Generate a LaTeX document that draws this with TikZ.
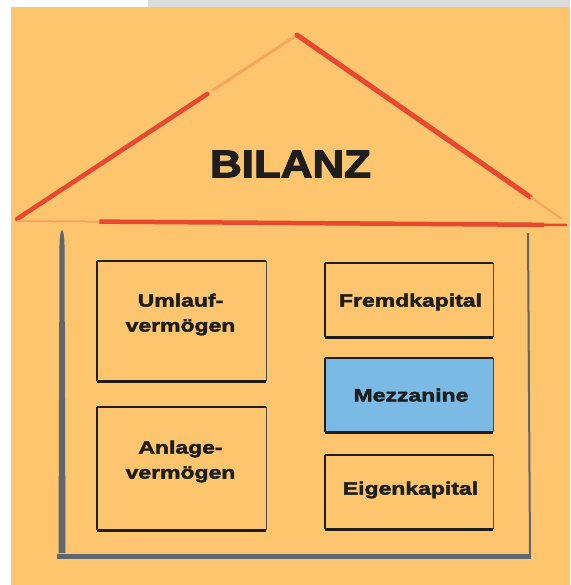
\documentclass[tikz,border=0pt]{standalone}
\usepackage{fontspec}
\usetikzlibrary{calc}
\newfontfamily\lab[FakeStretch=1.29,FakeBold=2.6]{Liberation Sans}
\newfontfamily\ttl[FakeStretch=1.14,FakeBold=3]{Liberation Sans}
\definecolor{bg}{HTML}{FCC56E}
\definecolor{barc}{HTML}{DCDCDC}
\definecolor{roofred}{HTML}{E8482F}
\definecolor{wallc}{HTML}{5F6670}
\definecolor{ink}{HTML}{1E1E1E}
\definecolor{mezz}{HTML}{7ABAE4}
\newcommand\handbox[1]{%
  \draw[ink,line width=2.4pt] (#1.north west) -- (#1.south west);
  \draw[ink,line width=2.8pt] (#1.south west) -- (#1.south east);
  \draw[ink,line width=1.8pt] (#1.north west) -- (#1.north east);
  \draw[ink!80,line width=1.1pt] (#1.north east) -- (#1.south east);}
\begin{document}
\begin{tikzpicture}[x=1pt,y=-1pt,
  box/.style={draw=none,inner sep=0pt},
  lbl/.style={text=ink,align=center,font=\lab\bfseries\fontsize{17.8}{25}\selectfont}]
\useasboundingbox (0,0) rectangle (570,585);
\fill[white] (0,0) rectangle (570,585);
\fill[barc] (148,0) rectangle (570,7.5);
\fill[bg] (10.5,7.5) rectangle (570,585);
% roof
\coordinate (L) at (17,219);
\coordinate (A) at (297,35);
\coordinate (R) at (562,219);
\coordinate (HL) at (17,221);
\coordinate (HR) at (566,225);
\draw[roofred!25!bg,line width=3pt,line cap=round] (A) -- ($(L)!0.7!(A)$);
\draw[roofred,line width=4.5pt,line cap=round] (L) -- ($(L)!0.68!(A)$);
\draw[roofred,line width=5pt,line cap=round] (A) -- ($(A)!0.88!(R)$);
\draw[roofred!25!bg,line width=2pt] ($(A)!0.88!(R)$) -- (R);
\draw[roofred!25!bg,line width=2pt] (HL) -- ($(HL)!0.15!(HR)$);
\draw[roofred,line width=4.5pt] ($(HL)!0.15!(HR)$) -- ($(HL)!0.96!(HR)$);
\draw[roofred,line width=2.5pt,line cap=round] ($(HL)!0.95!(HR)$) -- (HR);
% title
\node[text=ink,font=\ttl\bfseries\fontsize{38.5}{40}\selectfont] (title) at (290.5,164) {BILANZ};
% walls
\coordinate (WTL) at (62,228);
\coordinate (WBL) at (57,556);
\coordinate (WBR) at (531,556);
\coordinate (WTR) at (528,233);
\fill[wallc] (59.5,245) .. controls (60,225) and (64,225) .. (64.5,245) -- (65.5,553) -- (58.5,553) -- cycle;
\draw[wallc,line width=5pt] (WBL) -- (WBR);
\draw[wallc,line width=2pt] (WTR) -- (530,554);
% boxes
\node[box,minimum width=169pt,minimum height=120pt] (uv) at (181.5,321) {};
\node[box,minimum width=169pt,minimum height=123pt] (av) at (181.5,468.5) {};
\node[box,minimum width=168pt,minimum height=74pt] (fk) at (409,300) {};
\node[box,fill=mezz,minimum width=168pt,minimum height=74pt] (mz) at (409,395) {};
\node[box,minimum width=168pt,minimum height=74pt] (ek) at (409,492) {};
\handbox{uv}\handbox{av}\handbox{fk}\handbox{mz}\handbox{ek}
\node[lbl] (uvt) at (180.5,314.5) {Umlauf-\\vermögen};
\node[lbl] (avt) at (180.5,461.5) {Anlage-\\vermögen};
\node[lbl] (fkt) at (410.5,302) {Fremdkapital};
\node[lbl] (mzt) at (411,395) {Mezzanine};
\node[lbl] (ekt) at (410.5,490) {Eigenkapital};
\end{tikzpicture}
\end{document}
